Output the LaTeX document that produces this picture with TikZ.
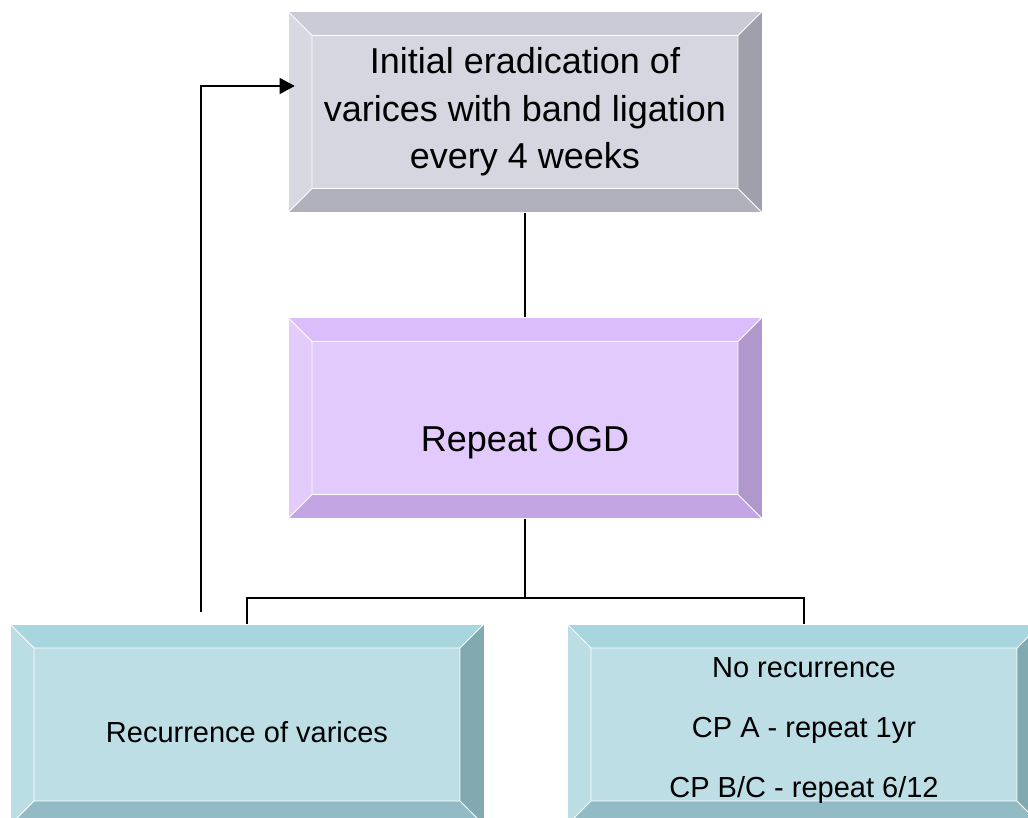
\documentclass[tikz,border=0pt]{standalone}
\usepackage{fontspec}
\setmainfont{Liberation Sans}
\usetikzlibrary{arrows.meta}
\definecolor{greyface}{RGB}{214,214,224}
\definecolor{greytop}{RGB}{203,203,215}
\definecolor{greyleft}{RGB}{216,216,226}
\definecolor{greyright}{RGB}{160,160,172}
\definecolor{greybot}{RGB}{177,177,190}
\definecolor{lilacface}{RGB}{226,202,252}
\definecolor{lilactop}{RGB}{219,189,252}
\definecolor{lilacleft}{RGB}{227,203,252}
\definecolor{lilacright}{RGB}{176,151,204}
\definecolor{lilacbot}{RGB}{196,165,228}
\definecolor{tealface}{RGB}{188,222,228}
\definecolor{tealtop}{RGB}{168,214,223}
\definecolor{tealleft}{RGB}{186,222,228}
\definecolor{tealright}{RGB}{130,168,176}
\definecolor{tealbot}{RGB}{146,187,198}
\tikzset{
  bevel/.style n args={5}{draw=white, line width=0.6pt, fill=#1,
    minimum width=474pt, minimum height=201pt, inner sep=0pt, align=center,
    path picture={
      \coordinate (nw) at (path picture bounding box.north west);
      \coordinate (ne) at (path picture bounding box.north east);
      \coordinate (se) at (path picture bounding box.south east);
      \coordinate (sw) at (path picture bounding box.south west);
      \coordinate (inw) at ([shift={(24pt,-24pt)}]nw);
      \coordinate (ine) at ([shift={(-24pt,-24pt)}]ne);
      \coordinate (ise) at ([shift={(-24pt,24pt)}]se);
      \coordinate (isw) at ([shift={(24pt,24pt)}]sw);
      \fill[#2] (nw) -- (ne) -- (ine) -- (inw) -- cycle;
      \fill[#3] (sw) -- (nw) -- (inw) -- (isw) -- cycle;
      \fill[#4] (ne) -- (se) -- (ise) -- (ine) -- cycle;
      \fill[#5] (se) -- (sw) -- (isw) -- (ise) -- cycle;
      \draw[white, line width=0.9pt] (inw) rectangle (ise)
        (nw) -- (inw) (ne) -- (ine) (se) -- (ise) (sw) -- (isw);
    }}
}
\begin{document}
\begin{tikzpicture}[x=1pt,y=-1pt]
  \tikzstyle{greybox}=[bevel={greyface}{greytop}{greyleft}{greyright}{greybot}]
  \tikzstyle{lilacbox}=[bevel={lilacface}{lilactop}{lilacleft}{lilacright}{lilacbot}]
  \tikzstyle{tealbox}=[bevel={tealface}{tealtop}{tealleft}{tealright}{tealbot}]
  \tikzstyle{link}=[draw=black, line width=1.3pt]
  \useasboundingbox (0,0) rectangle (1028,818);
  \clip (0,0) rectangle (1028,818);
  \node[greybox, font=\fontsize{36}{47.5}\selectfont] (erad) at (525,112)
    {Initial eradication of\\varices with band ligation\\every 4 weeks};
  \node[lilacbox, font=\fontsize{36}{43}\selectfont, text height=66pt, text depth=0pt] (ogd) at (525,418) {Repeat OGD};
  \node[tealbox, font=\fontsize{29}{34}\selectfont, text height=35pt, text depth=0pt] (recur) at (247,724.5) {Recurrence of varices};
  \node[tealbox, font=\fontsize{29}{60}\selectfont] (norec) at (804,724.5)
    {\rule{0pt}{33pt}No recurrence\\CP A - repeat 1yr\\CP B/C - repeat 6/12};
  \coordinate (split) at (525,598);
  \coordinate (back) at (201,612);
  \draw[link] (erad.south) -- (ogd.north);
  \draw[link] (ogd.south) -- (split);
  \draw[link] (recur.north) |- (split) -| (norec.north);
  \draw[link, -{Triangle[length=15pt,width=16pt]}] (back) |- ([xshift=7pt,yshift=26pt]erad.west);
\end{tikzpicture}
\end{document}
